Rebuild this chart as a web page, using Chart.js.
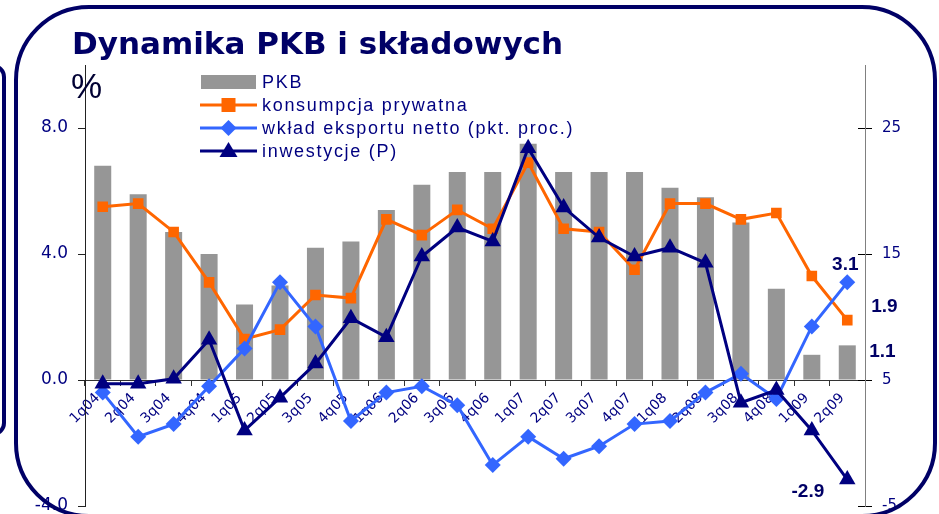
<!DOCTYPE html>
<html>
<head>
<meta charset="utf-8">
<script src="https://cdn.jsdelivr.net/npm/chart.js@4.4.1/dist/chart.umd.min.js"></script>
<style>
  html, body { margin: 0; padding: 0; background: #fff; overflow: hidden; }
  #wrap { position: relative; width: 939px; height: 514px; overflow: hidden; }
  #box { position: absolute; left: 0; top: 0; width: 939px; height: 530px; }
  #title { position: absolute; left: 72px; top: 24px; font: bold 31px "DejaVu Sans", sans-serif; color: #000066; white-space: nowrap; line-height: 38px; }
  #pct { position: absolute; left: 71px; top: 66px; font: 35px "Liberation Sans", Arial, sans-serif; color: #000033; line-height: 40px; }
  #frame { position: absolute; left: 14px; top: 5px; width: 915px; height: 505px; border: 4px solid #000066; border-radius: 75px; pointer-events: none; }
  #frame2 { position: absolute; left: -20px; top: 64px; width: 18px; height: 364px; border: 4px solid #000066; border-radius: 14px; pointer-events: none; }
</style>
</head>
<body>
<div id="wrap">
  <div id="box"><canvas id="chart" width="939" height="530"></canvas></div>
  <div id="title">Dynamika PKB i składowych</div>
  <div id="pct">%</div>
  <div id="frame"></div>
  <div id="frame2"></div>
</div>
<script>
// Data
const categories = ['1q04', '2q04', '3q04', '4q04', '1q05', '2q05', '3q05', '4q05', '1q06', '2q06', '3q06',
  '4q06', '1q07', '2q07', '3q07', '4q07', '1q08', '2q08', '3q08', '4q08', '1q09', '2q09'];
const pkb = [6.8, 5.9, 4.7, 4.0, 2.4, 3.0, 4.2, 4.4, 5.4, 6.2, 6.6, 6.6, 7.5, 6.6, 6.6, 6.6, 6.1, 5.8, 5.0, 2.9, 0.8, 1.1];
const konsumpcja = [5.5, 5.6, 4.7, 3.1, 1.3, 1.6, 2.7, 2.6, 5.1, 4.6, 5.4, 4.8, 6.9, 4.8, 4.7, 3.5, 5.6, 5.6, 5.1, 5.3, 3.3, 1.9];
const eksport = [-0.4, -1.8, -1.4, -0.2, 1.0, 3.1, 1.7, -1.3, -0.4, -0.2, -0.8, -2.7, -1.8, -2.5, -2.1, -1.4, -1.3, -0.4, 0.2, -0.6, 1.7, 3.1];
const inwestycje = [4.7, 4.7, 5.1, 8.2, 1.0, 3.6, 6.3, 9.9, 8.4, 14.8, 17.1, 16.0, 23.4, 18.7, 16.3, 14.8, 15.5, 14.3, 3.2, 4.2, 1.0, -2.9];
const leftTicks = [-4, 0, 4, 8];
const rightTicks = [-5, 5, 15, 25];
const seriesNames = ['PKB', 'konsumpcja prywatna', 'wkład eksportu netto (pkt. proc.)', 'inwestycje (P)'];

const NAVY = '#000080';
const ORANGE = '#FF6600';
const BLUE = '#3366FF';
const GRAY = '#969696';

// Legend drawn over the plot area
const legendPlugin = {
  id: 'ownLegend',
  afterDatasetsDraw(chart) {
    const ctx = chart.ctx;
    const x0 = 200, x1 = 257, xm = 228.5;
    const rows = [88, 111, 134, 157];
    ctx.save();
    ctx.fillStyle = GRAY;
    ctx.fillRect(201, 75, 55, 14);
    const styles = [null, { c: ORANGE, m: 'rect' }, { c: BLUE, m: 'diamond' }, { c: NAVY, m: 'tri' }];
    for (let i = 1; i < 4; i++) {
      const y = rows[i] - 6;
      ctx.strokeStyle = styles[i].c;
      ctx.fillStyle = styles[i].c;
      ctx.lineWidth = 3;
      ctx.beginPath(); ctx.moveTo(x0, y); ctx.lineTo(x1, y); ctx.stroke();
      ctx.beginPath();
      if (styles[i].m === 'rect') ctx.rect(xm - 7, y - 7, 14, 14);
      else if (styles[i].m === 'diamond') { ctx.moveTo(xm, y - 8); ctx.lineTo(xm + 8, y); ctx.lineTo(xm, y + 8); ctx.lineTo(xm - 8, y); }
      else { ctx.moveTo(xm, y - 9); ctx.lineTo(xm + 9, y + 6); ctx.lineTo(xm - 9, y + 6); }
      ctx.closePath(); ctx.fill();
    }
    ctx.fillStyle = NAVY;
    ctx.font = '18px "Liberation Sans", Arial, sans-serif';
    ctx.letterSpacing = '1.7px';
    ctx.textBaseline = 'alphabetic';
    seriesNames.forEach((t, i) => ctx.fillText(t, 262, rows[i]));
    ctx.restore();
  }
};

// Value labels at the last points
const endLabels = {
  id: 'endLabels',
  afterDatasetsDraw(chart) {
    const ctx = chart.ctx;
    const specs = [
      { ds: 2, dx: -2, dy: -12, align: 'center' },
      { ds: 1, dx: 24, dy: -8, align: 'left' },
      { ds: 0, dx: 22, dy: 12, align: 'left' },
      { ds: 3, dx: -23, dy: 17, align: 'right' }
    ];
    ctx.save();
    ctx.fillStyle = '#000066';
    ctx.font = 'bold 19px "Liberation Sans", Arial, sans-serif';
    specs.forEach(s => {
      const data = chart.data.datasets[s.ds].data;
      const el = chart.getDatasetMeta(s.ds).data[data.length - 1];
      ctx.textAlign = s.align;
      ctx.fillText(data[data.length - 1].toFixed(1), el.x + s.dx, el.y + s.dy);
    });
    ctx.restore();
  }
};

// Right axis ticks cross the axis line
const innerTicks = {
  id: 'innerTicks',
  afterDraw(chart) {
    const sc = chart.scales.y2;
    const ctx = chart.ctx;
    ctx.save();
    ctx.strokeStyle = '#000';
    ctx.lineWidth = 1;
    sc.ticks.forEach(t => {
      const y = Math.round(sc.getPixelForValue(t.value)) + 0.5;
      ctx.beginPath(); ctx.moveTo(sc.left - 7, y); ctx.lineTo(sc.left, y); ctx.stroke();
    });
    ctx.restore();
  }
};

const ctx = document.getElementById('chart').getContext('2d');
new Chart(ctx, {
  type: 'bar',
  data: {
    labels: categories,
    datasets: [
      { type: 'bar', label: seriesNames[0], data: pkb, backgroundColor: GRAY, yAxisID: 'y',
        barPercentage: 0.48, categoryPercentage: 1, order: 3 },
      { type: 'line', label: seriesNames[1], data: konsumpcja, borderColor: ORANGE, backgroundColor: ORANGE,
        borderWidth: 3, pointStyle: 'rect', pointRadius: 7.5, pointBorderWidth: 0, yAxisID: 'y', order: 2 },
      { type: 'line', label: seriesNames[2], data: eksport, borderColor: BLUE, backgroundColor: BLUE,
        borderWidth: 3, pointStyle: 'rectRot', pointRadius: 8, pointBorderWidth: 0, yAxisID: 'y', order: 1 },
      { type: 'line', label: seriesNames[3], data: inwestycje, borderColor: NAVY, backgroundColor: NAVY,
        borderWidth: 3, pointStyle: 'triangle', pointRadius: 9.5, pointBorderWidth: 0, yAxisID: 'y2', order: 0 }
    ]
  },
  options: {
    responsive: false,
    animation: false,
    maintainAspectRatio: false,
    layout: { padding: { left: 0, right: 0, top: 65, bottom: 24 } },
    plugins: { legend: { display: false }, tooltip: { enabled: false } },
    scales: {
      x: {
        position: { y: 0 },
        offset: true,
        grid: { offset: true, drawOnChartArea: false, drawTicks: true, tickLength: 5, color: '#333' },
        border: { color: '#333', width: 1 },
        ticks: { color: NAVY, font: { family: '"DejaVu Sans", sans-serif', size: 14 },
          maxRotation: 45, minRotation: 45, autoSkip: false, padding: 5, labelOffset: -5 }
      },
      y: {
        position: 'left',
        min: -4, max: 10,
        afterBuildTicks: s => { s.ticks = leftTicks.map(v => ({ value: v })); },
        afterFit: s => { s.width = 85; },
        grid: { drawOnChartArea: false, tickLength: 7, color: '#222' },
        border: { color: '#222', width: 1 },
        ticks: { color: NAVY, padding: 10, font: { family: '"DejaVu Sans", sans-serif', size: 17 },
          callback: v => v.toFixed(1) }
      },
      y2: {
        position: 'right',
        min: -5, max: 30,
        afterBuildTicks: s => { s.ticks = rightTicks.map(v => ({ value: v })); },
        afterFit: s => { s.width = 74; },
        grid: { drawOnChartArea: false, tickLength: 7, color: '#000' },
        border: { color: '#808080', width: 1 },
        ticks: { color: NAVY, padding: 10, font: { family: '"DejaVu Sans", sans-serif', size: 15 } }
      }
    }
  },
  plugins: [legendPlugin, endLabels, innerTicks]
});
</script>
</body>
</html>
